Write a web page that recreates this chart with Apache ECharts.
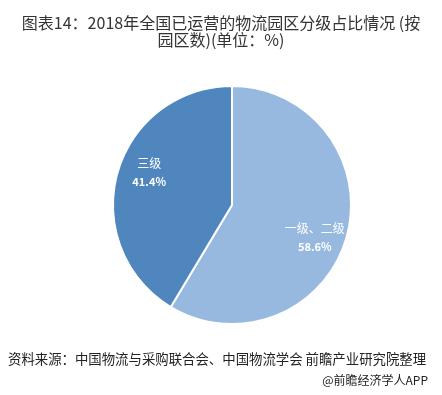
<!DOCTYPE html>
<html><head><meta charset="utf-8">
<script src="https://cdn.jsdelivr.net/npm/echarts@6/dist/echarts.min.js"></script>
<style>html,body{margin:0;padding:0;background:#fff;}#c{width:442px;height:395px;}</style>
</head><body><div id="c"></div>
<script>
const categories = ['一级、二级', '三级'];
const values = [58.6, 41.4];
const colors = ['#97B9E0', '#4F86BE'];
const titleText = '图表14：2018年全国已运营的物流园区分级占比情况 (按\n园区数)(单位：%)';
const sourceText = '资料来源：中国物流与采购联合会、中国物流学会 前瞻产业研究院整理';
const creditText = '@前瞻经济学人APP';

const font = '"Noto Sans CJK SC", "Microsoft YaHei", sans-serif';
const data = categories.map((c, i) => ({ name: c, value: values[i], itemStyle: { color: colors[i] } }));
const chart = echarts.init(document.getElementById('c'));
chart.setOption({
  animation: false,
  title: {
    text: titleText, left: 'center', top: 9,
    textStyle: { fontFamily: font, fontSize: 16, fontWeight: 'normal', color: '#333', lineHeight: 17 }
  },
  graphic: [
    { type: 'text', left: 8, top: 352, style: { text: sourceText, font: '13.4px ' + font, fill: '#222' } },
    { type: 'text', right: 14, top: 374, style: { text: creditText, font: '12px ' + font, fill: '#222' } }
  ],
  series: [
    {
      type: 'pie', center: [232, 205], radius: [0, 119], startAngle: 90, clockwise: true,
      silent: true,
      itemStyle: { borderColor: '#fff', borderWidth: 2 },
      label: { show: false }, labelLine: { show: false },
      data: data
    },
    {
      type: 'pie', center: [232, 205], radius: [0, 172], startAngle: 84, clockwise: true,
      silent: true,
      itemStyle: { color: 'rgba(0,0,0,0)', borderWidth: 0 },
      labelLine: { show: false },
      label: {
        show: true, position: 'inside',
        formatter: p => '{n|' + p.name + '}\n{v|' + p.value.toFixed(1) + '%}',
        rich: {
          n: { fontFamily: font, fontSize: 12, color: '#fff', lineHeight: 18 },
          v: { fontFamily: font, fontSize: 11, fontWeight: 'bold', color: '#fff', lineHeight: 18 }
        }
      },
      data: categories.map((c, i) => ({ name: c, value: values[i] }))
    }
  ]
});
</script></body></html>
